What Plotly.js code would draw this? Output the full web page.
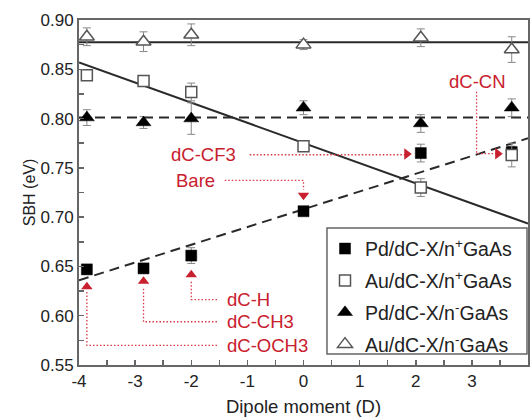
<!DOCTYPE html>
<html>
<head>
<meta charset="utf-8">
<script src="https://cdn.plot.ly/plotly-3.0.1.min.js"></script>
<style>
  html, body { margin: 0; padding: 0; background: #fff; }
  #chart { width: 532px; height: 418px; }
</style>
</head>
<body>
<div id="chart"></div>
<script>
// Dipole moment of each dC-X substituent (Debye)
const dipole = [-3.86, -2.85, -2.0, 0, 2.09, 3.71];
const substituents = ["dC-OCH3", "dC-CH3", "dC-H", "Bare", "dC-CF3", "dC-CN"];

// Schottky barrier heights (eV) and their uncertainties
const pdNplus = [0.647, 0.648, 0.661, 0.706, 0.765, 0.766];
const pdNplusErr = [0.004, 0.004, 0.008, 0.004, 0.009, 0.006];
const auNplus = [0.844, 0.838, 0.827, 0.772, 0.730, 0.763];
const auNplusErr = [0.005, 0.005, 0.009, 0.004, 0.009, 0.012];
const pdNminus = [0.801, 0.796, 0.800, 0.811, 0.795, 0.811];
const pdNminusErr = [0.008, 0.006, 0.016, 0.007, 0.009, 0.009];
const auNminus = [0.883, 0.878, 0.885, 0.875, 0.882, 0.870];
const auNminusErr = [0.009, 0.010, 0.011, 0.005, 0.009, 0.013];

// Linear fits across the full dipole range
const fitX = [-4, 4];
const pdNplusFit = [0.636, 0.780];
const auNplusFit = [0.857, 0.6935];
const pdNminusFit = [0.801, 0.801];
const auNminusFit = [0.8775, 0.8775];

// Axis ticks
const xTickVals = [-4, -3, -2, -1, 0, 1, 2, 3, 4];
const xTickText = ["-4", "-3", "-2", "-1", "0", "1", "2", "3", "4"];

// Series names
const seriesNames = [
  "Pd/dC-X/n<sup>+</sup>GaAs",
  "Au/dC-X/n<sup>+</sup>GaAs",
  "Pd/dC-X/n<sup>-</sup>GaAs",
  "Au/dC-X/n<sup>-</sup>GaAs"
];

// Callout placement: label anchor, dotted leader path, arrowhead
const callouts = [
  { i: 0, tx: -1.40, ty: 0.5699, anchor: "left",
    px: [-1.542, dipole[0], dipole[0]], py: [0.5699, 0.5699, 0.6244],
    hx: dipole[0], hy: 0.6294, sym: "triangle-up" },
  { i: 1, tx: -1.40, ty: 0.5939, anchor: "left",
    px: [-1.542, dipole[1], dipole[1]], py: [0.5939, 0.5939, 0.6294],
    hx: dipole[1], hy: 0.6350, sym: "triangle-up" },
  { i: 2, tx: -1.40, ty: 0.6163, anchor: "left",
    px: [-1.542, dipole[2], dipole[2]], py: [0.6163, 0.6163, 0.6365],
    hx: dipole[2], hy: 0.6416, sym: "triangle-up" },
  { i: 3, tx: -1.546, ty: 0.7373, anchor: "right",
    px: [-1.403, dipole[3], dipole[3]], py: [0.7373, 0.7373, 0.7278],
    hx: dipole[3], hy: 0.7223, sym: "triangle-down" },
  { i: 4, tx: -1.17, ty: 0.7633, anchor: "right",
    px: [-0.957, 1.84], py: [0.7633, 0.7633],
    hx: 1.84, hy: 0.7640, sym: "triangle-right" },
  { i: 5, tx: 3.107, ty: 0.8377, anchor: "center",
    px: [3.084, 3.084, 3.46], py: [0.8273, 0.7644, 0.7644],
    hx: 3.46, hy: 0.7644, sym: "triangle-right" }
];

const RED = "#c8202e";
const AXIS = "#666";
const FONT = "Liberation Sans, Arial, Helvetica, sans-serif";

const traces = [];

// Fit lines (behind the markers)
function fitLine(y, dash) {
  return { x: fitX, y: y, mode: "lines", showlegend: false, hoverinfo: "skip",
           line: { color: "#2a2a2a", width: 2, dash: dash } };
}
traces.push(fitLine(auNminusFit, "solid"));
traces.push(fitLine(pdNminusFit, "10px,6px"));
traces.push(fitLine(auNplusFit, "solid"));
traces.push(fitLine(pdNplusFit, "10px,6px"));

// Dotted leaders and arrowheads of the callouts
callouts.forEach(c => {
  traces.push({ x: c.px, y: c.py, mode: "lines", showlegend: false, hoverinfo: "skip",
                line: { color: "#d83848", width: 1.3, dash: "1.5px,2px" } });
  traces.push({ x: [c.hx], y: [c.hy], mode: "markers", showlegend: false, hoverinfo: "skip",
                marker: { symbol: c.sym, size: 10, color: RED, line: { width: 0 } } });
});

// Measured points
function series(k, y, err, symbol, filled, size) {
  return {
    x: dipole, y: y, name: seriesNames[k], legendgroup: "g" + k,
    mode: "markers", type: "scatter",
    error_y: { type: "data", array: err, visible: true, color: "#888", thickness: 1, width: 4 },
    marker: {
      symbol: symbol, size: size,
      color: filled ? "#000" : "#fff",
      line: { color: filled ? "#000" : "#555", width: filled ? 0.5 : 1.5 }
    }
  };
}
traces.push(series(0, pdNplus, pdNplusErr, "square", true, 11));
traces.push(series(1, auNplus, auNplusErr, "square", false, 11));
traces.push(series(2, pdNminus, pdNminusErr, "triangle-up", true, 13));
traces.push(series(3, auNminus, auNminusErr, "triangle-up", false, 13));

const annotations = callouts.map(c => ({
  x: c.tx, y: c.ty, xref: "x", yref: "y", text: substituents[c.i],
  showarrow: false, xanchor: c.anchor, yanchor: "middle",
  font: { family: FONT, size: 18.5, color: RED }
}));

const axisCommon = {
  showline: true, linecolor: AXIS, linewidth: 2, mirror: true,
  showgrid: false, zeroline: false,
  ticks: "inside", ticklen: 5, tickwidth: 1.5, tickcolor: AXIS,
  tickfont: { family: FONT, size: 17, color: "#222" }
};

const layout = {
  width: 532, height: 418,
  margin: { l: 79, r: 4, t: 20, b: 53 },
  paper_bgcolor: "#fff", plot_bgcolor: "#fff",
  font: { family: FONT, color: "#222" },
  xaxis: Object.assign({}, axisCommon, {
    range: [-4, 4], tickmode: "array", tickvals: xTickVals, ticktext: xTickText,
    minor: { dtick: 0.5, tick0: -4, ticks: "inside", ticklen: 5, tickwidth: 1.5, tickcolor: AXIS },
    title: { text: "Dipole moment (D)", standoff: 10, font: { family: FONT, size: 18.5, color: "#222" } }
  }),
  yaxis: Object.assign({}, axisCommon, {
    range: [0.55, 0.90], dtick: 0.05, tick0: 0.55, tickformat: ".2f",
    minor: { dtick: 0.025, ticks: "inside", ticklen: 5, tickwidth: 1.5, tickcolor: AXIS },
    title: { text: "SBH (eV)", standoff: 1, font: { family: FONT, size: 16, color: "#222" } }
  }),
  // Legend frame drawn as a shape so it can span the full box width
  shapes: [{
    type: "rect", xref: "paper", yref: "paper", layer: "above",
    x0: 0.5523, x1: 0.9978, y0: 0.0319, y1: 0.3971,
    fillcolor: "#fff", line: { color: AXIS, width: 1.5 }
  }],
  legend: {
    x: 0.5479, y: 0.393, xanchor: "left", yanchor: "top",
    bgcolor: "rgba(0,0,0,0)", borderwidth: 0,
    font: { family: FONT, size: 19.5, color: "#222" },
    itemwidth: 30, tracegroupgap: 3.5
  },
  annotations: annotations,
  showlegend: true
};

Plotly.newPlot("chart", traces, layout, { displayModeBar: false, staticPlot: true });
</script>
</body>
</html>
